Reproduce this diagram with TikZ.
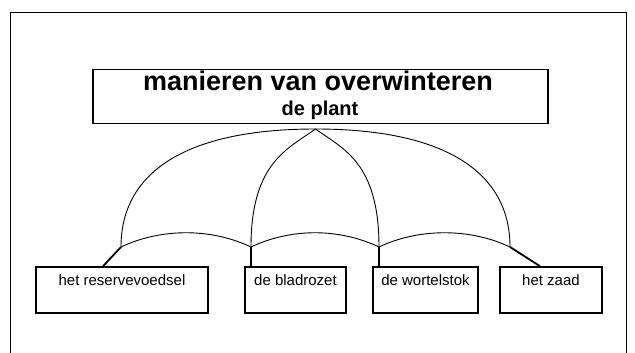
\documentclass[tikz,border=0pt]{standalone}
\usepackage{fontspec}
\setmainfont{Liberation Sans}
\usetikzlibrary{calc}

\begin{document}
\begin{tikzpicture}[
    x=1pt, y=-1pt,
    font=\fontsize{15}{18}\selectfont,
    titlebox/.style={
        draw,
        line width=1.6pt,
        minimum width=455pt,
        minimum height=54pt,
        inner sep=0pt
    },
    itembox/.style={
        draw,
        line width=1.6pt,
        inner sep=0pt,
        text height=18pt,
        text depth=28pt
    },
    rib/.style={
        line width=0.9pt
    },
    pole/.style={
        line width=1.8pt
    },
    frame/.style={
        line width=0.9pt
    }
]

% Page size
\useasboundingbox (0,0) rectangle (635,353);

% Frame
\draw[frame] (10,353) -- (10,12) -- (626,12) -- (626,353);

% Title box
\node[titlebox] (title) at (320.5,96.5) {};
\node[font=\bfseries\fontsize{27}{30}\selectfont, anchor=base] (maintitle) at (318,91)
{manieren van overwinteren};
\node[font=\bfseries\fontsize{20}{22}\selectfont, anchor=base] (subtitle) at (320,116)
{de plant};

% Item boxes
\node[itembox, minimum width=172pt] (reserve) at (122,290) {het reservevoedsel};
\node[itembox, minimum width=101pt] (rozet) at (295.5,290) {de bladrozet};
\node[itembox, minimum width=105pt] (stok) at (425.5,290) {de wortelstok};
\node[itembox, minimum width=102pt] (zaad) at (551,290) {het zaad};

% Umbrella
\coordinate (apex) at (315.5,129);
\coordinate (r1) at (121,247);
\coordinate (r2) at (251,247);
\coordinate (r3) at (379,247);
\coordinate (r4) at (510,247);

\draw[rib] (r1) .. controls ($(r1)+(0,-77)$) and ($(apex)+(-126,0)$) .. (apex)
           .. controls ($(apex)+(126,0)$) and ($(r4)+(0,-77)$) .. (r4);
\draw[rib] (r2) .. controls ($(r2)+(0,-84)$) and ($(apex)+(-28,20)$) .. (apex);
\draw[rib] (r3) .. controls ($(r3)+(0,-84)$) and ($(apex)+(28,20)$) .. (apex);

\draw[rib] (r1) .. controls ($(r1)+(40,-19)$) and ($(r2)+(-40,-19)$) .. (r2)
           .. controls ($(r2)+(40,-19)$) and ($(r3)+(-40,-19)$) .. (r3)
           .. controls ($(r3)+(40,-19)$) and ($(r4)+(-40,-19)$) .. (r4);

% Poles to the boxes
\draw[pole] (r1) -- ($(reserve.north)+(-19,0)$);
\draw[pole] (r2) -- (r2 |- rozet.north);
\draw[pole] (r3) -- (r3 |- stok.north);
\draw[pole] (r4) -- ($(zaad.north)+(-11,0)$);

\end{tikzpicture}
\end{document}
